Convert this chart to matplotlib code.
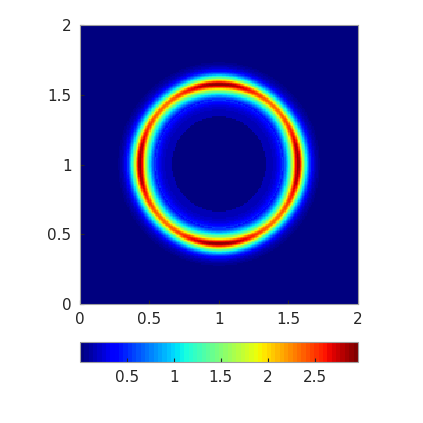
import numpy as np
import matplotlib
matplotlib.use('Agg')
import matplotlib.pyplot as plt

# domain and ticks
x_range = [0, 2]
y_range = [0, 2]
ticks = [0, 0.5, 1, 1.5, 2]
cbar_ticks = [0.5, 1, 1.5, 2, 2.5]
clim = [0, 2.96]

# ring parameters
center = [1.0, 1.0]
ring_radius = 0.572
peak_mean = 2.62
peak_wobble = 0.28         # stronger at 0/90/180/270 deg
core_share = 0.32
sigma_core = 0.02
sigma_tail_out = 0.052
sigma_tail_in = 0.064
inner_shelf = [0.34, 0.46, 0.15]   # r_start, r_end, level
outer_halo = [0.62, 0.73, 0.05]

n = 200
xs = np.linspace(x_range[0], x_range[1], n)
ys = np.linspace(y_range[0], y_range[1], n)
X, Y = np.meshgrid(xs, ys)
R = np.hypot(X - center[0], Y - center[1])
TH = np.arctan2(Y - center[1], X - center[0])

amp = peak_mean + peak_wobble * np.cos(4 * TH)
d = R - ring_radius
s_tail = np.where(d > 0, sigma_tail_out, sigma_tail_in)
shape = (core_share * np.exp(-d ** 2 / (2 * sigma_core ** 2))
         + (1 - core_share) * np.exp(-d ** 2 / (2 * s_tail ** 2)))
Z = amp * shape
Z = Z + inner_shelf[2] * ((R > inner_shelf[0]) & (R < inner_shelf[1]))
Z = Z + outer_halo[2] * ((R > outer_halo[0]) & (R < outer_halo[1]))

fig = plt.figure(figsize=(4.23, 4.23), dpi=100)
ax = fig.add_axes([0.189, 0.281, 0.657, 0.66])
cmap = plt.get_cmap('jet', 64)
im = ax.imshow(Z, origin='lower', extent=[0, 2, 0, 2], cmap=cmap,
               vmin=clim[0], vmax=clim[1], interpolation='nearest', aspect='auto')
ax.set_xlim(x_range)
ax.set_ylim(y_range)
ax.set_xticks(ticks)
ax.set_yticks(ticks)
ax.set_xticklabels(['0', '0.5', '1', '1.5', '2'])
ax.set_yticklabels(['0', '0.5', '1', '1.5', '2'])
ax.tick_params(direction='in', length=3, labelsize=11, colors='#262626', pad=6)
for s in ax.spines.values():
    s.set_color('#a0a0a0')
    s.set_linewidth(0.8)

cax = fig.add_axes([0.189, 0.144, 0.657, 0.047])
cb = fig.colorbar(im, cax=cax, orientation='horizontal', ticks=cbar_ticks)
cb.ax.set_xticklabels(['0.5', '1', '1.5', '2', '2.5'])
cb.ax.tick_params(direction='in', length=3, labelsize=11, colors='#262626', pad=6)
cb.outline.set_edgecolor('#a0a0a0')
cb.outline.set_linewidth(0.8)

fig.savefig('out.png', dpi=100)
